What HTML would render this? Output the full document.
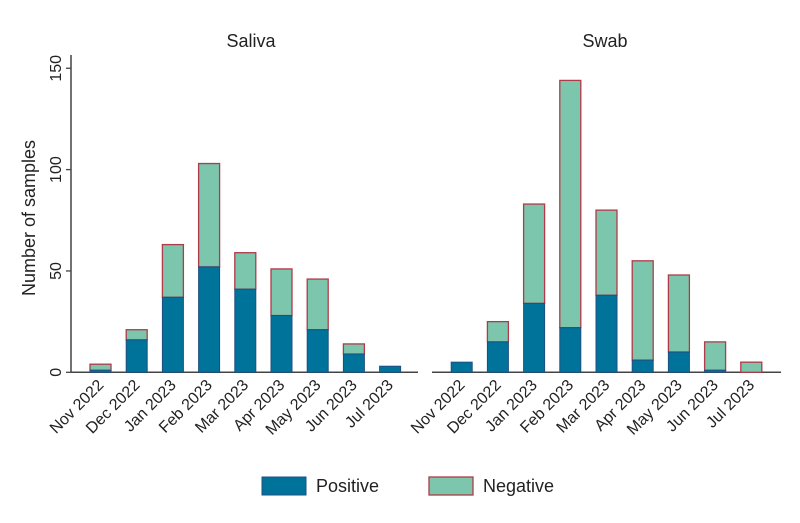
<!DOCTYPE html>
<html><head><meta charset="utf-8"><style>
body{margin:0;background:#fff;font-family:"Liberation Sans",sans-serif;}
svg text{font-family:"Liberation Sans",sans-serif;fill:#222;}
</style></head><body>
<svg id="chart" width="800" height="518" xmlns="http://www.w3.org/2000/svg"></svg>
<script>
const categories=["Nov 2022","Dec 2022","Jan 2023","Feb 2023","Mar 2023","Apr 2023","May 2023","Jun 2023","Jul 2023"];
const salivaPositive=[1,16,37,52,41,28,21,9,3];
const salivaNegative=[3,5,26,51,18,23,25,5,0];
const swabPositive=[5,15,34,22,38,6,10,1,0];
const swabNegative=[0,10,49,122,42,49,38,14,5];
const yTicks=[0,50,100,150];
const NS="http://www.w3.org/2000/svg";
const svg=document.getElementById('chart');
function mk(t,a,txt){const e=document.createElementNS(NS,t);for(const k in a)e.setAttribute(k,a[k]);if(txt!==undefined)e.textContent=txt;svg.appendChild(e);return e;}
const y0=372.3,ppu=2.027;
function y(v){return y0-v*ppu;}
const panels=[
 {name:"saliva",title:"Saliva",x0:100.5,x1:418,xa:71,tx:251,pos:salivaPositive,neg:salivaNegative},
 {name:"swab",title:"Swab",x0:461.7,x1:781,xa:432,tx:605,pos:swabPositive,neg:swabNegative}];
const step=36.2,bw=21;
panels.forEach((p,pi)=>{
 const t=mk('text',{x:p.tx,y:47,'font-size':18,'text-anchor':'middle'},p.title);
 
 
 const bl=mk('line',{x1:p.xa,x2:p.x1,y1:y0,y2:y0,stroke:'#444','stroke-width':1.5});
 
 
 categories.forEach((c,i)=>{
  const cx=p.x0+i*step;
  const pv=p.pos[i],nv=p.neg[i];
  if(nv>0){const r=mk('rect',{x:cx-bw/2,y:y(pv+nv),width:bw,height:nv*ppu,fill:'#7cc6ad',stroke:'#b03a48','stroke-width':1.3});
   
   }
  if(pv>0){const r=mk('rect',{x:cx-bw/2,y:y(pv),width:bw,height:pv*ppu,fill:'#00739a',stroke:'#1f4f80','stroke-width':1});
   
   }
  const l=mk('text',{x:cx+4,y:386,'font-size':16,'text-anchor':'end',transform:`rotate(-45 ${cx+4} 386)`},c);
  
  
 });
 if(pi===0){
  const ax=mk('line',{x1:71,x2:71,y1:55,y2:y0,stroke:'#444','stroke-width':1.5});
  
  
  yTicks.forEach(v=>{
   const tk=mk('line',{x1:p.xa-5,x2:p.xa,y1:y(v),y2:y(v),stroke:'#444','stroke-width':1.3});
   
   
   const tl=mk('text',{x:61,y:y(v),'font-size':16,'text-anchor':'middle',transform:`rotate(-90 61 ${y(v)})`},String(v));
   
   
  });
 }
});
const yt=mk('text',{x:35,y:218,'font-size':18,'text-anchor':'middle',transform:'rotate(-90 35 218)'},'Number of samples');


const lp=mk('rect',{x:262,y:477,width:44,height:18,fill:'#00739a',stroke:'#1f4f80','stroke-width':1});


const lpt=mk('text',{x:316,y:492,'font-size':18},'Positive');


const ln=mk('rect',{x:429,y:477,width:44,height:18,fill:'#7cc6ad',stroke:'#b03a48','stroke-width':1.3});


const lnt=mk('text',{x:483,y:492,'font-size':18},'Negative');


</script>
</body></html>
